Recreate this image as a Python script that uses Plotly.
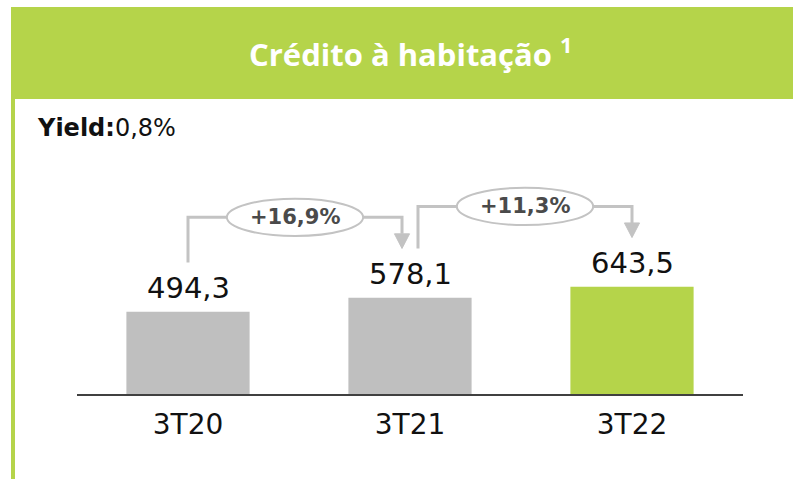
import plotly.graph_objects as go

# ---- data ----
categories = ["3T20", "3T21", "3T22"]
values = [494.3, 578.1, 643.5]
value_labels = ["494,3", "578,1", "643,5"]
bar_colors = ["#bfbfbf", "#bfbfbf", "#b5d44a"]
growth_labels = ["+16,9%", "+11,3%"]
title_text = "<b>Crédito à habitação <sup>1</sup></b>"
yield_label = "<b>Yield:</b>0,8%"

W, H = 793, 479
ML, MR, MT, MB = 77, 50, 100, 85
PW, PH = W - ML - MR, H - MT - MB
YMAX = 1766
GREEN = "#b5d44a"
LINE = "#c3c3c3"

def px_x(px):
    return (px - ML) / PW

def px_y(py):
    return (H - MB - py) / PH

x_idx = list(range(len(categories)))

fig = go.Figure()
fig.add_trace(go.Bar(
    x=x_idx, y=values, marker=dict(color=bar_colors, line=dict(width=0)),
    width=0.555, hoverinfo="skip", showlegend=False,
))

shapes = []
annotations = []

# header
shapes.append(dict(type="rect", xref="paper", yref="paper",
                   x0=px_x(11), x1=px_x(W + 2), y0=px_y(99), y1=px_y(7),
                   fillcolor=GREEN, line=dict(width=0), layer="above"))
shapes.append(dict(type="rect", xref="paper", yref="paper",
                   x0=px_x(11), x1=px_x(15), y0=px_y(H + 2), y1=px_y(99),
                   fillcolor=GREEN, line=dict(width=0), layer="above"))

annotations.append(dict(text=title_text, xref="paper", yref="paper",
                        x=px_x(410), y=px_y(52), showarrow=False,
                        xanchor="center", yanchor="middle",
                        font=dict(family="Open Sans", size=31, color="white"),
                        ))
annotations.append(dict(text=yield_label, xref="paper", yref="paper",
                        x=px_x(35), y=px_y(128), showarrow=False,
                        xanchor="left", yanchor="middle",
                        font=dict(family="DejaVu Sans", size=24, color="#111111")))

# value labels
for i, (v, t) in enumerate(zip(values, value_labels)):
    annotations.append(dict(text=t, x=i, y=v, xref="x", yref="y",
                            showarrow=False, yanchor="bottom", yshift=5,
                            font=dict(family="DejaVu Sans", size=29, color="#111111")))

# growth connectors
RISE = 296      # gap between bar top and connector ends (data units)
TOPGAP = 483    # connector height above destination bar
OFF = 0.036     # horizontal offset from bar centre
AW = 0.034      # arrowhead half-width (x units)
AH = 88         # arrowhead height (data units)
EW = 0.307      # ellipse half-width
EH = 112        # ellipse half-height
for k in range(len(values) - 1):
    x_start = k + (OFF if k > 0 else 0)
    x_end = k + 1 - (OFF if k + 1 < len(values) - 1 else 0)
    y_start = values[k] + RISE
    y_end = values[k + 1] + RISE
    y_top = values[k + 1] + TOPGAP
    shapes.append(dict(type="path", xref="x", yref="y",
                       path=f"M {x_start},{y_start} L {x_start},{y_top} L {x_end},{y_top} L {x_end},{y_end + AH}",
                       line=dict(color=LINE, width=3), layer="above"))
    shapes.append(dict(type="path", xref="x", yref="y",
                       path=f"M {x_end - AW},{y_end + AH} L {x_end + AW},{y_end + AH} L {x_end},{y_end} Z",
                       fillcolor=LINE, line=dict(color=LINE, width=1), layer="above"))
    xm = (x_start + x_end) / 2
    shapes.append(dict(type="circle", xref="x", yref="y",
                       x0=xm - EW, x1=xm + EW, y0=y_top - EH, y1=y_top + EH,
                       fillcolor="white", line=dict(color=LINE, width=2), layer="above"))
    annotations.append(dict(text=f"<b>{growth_labels[k]}</b>", x=xm, y=y_top,
                            xref="x", yref="y", showarrow=False,
                            xanchor="center", yanchor="middle",
                            font=dict(family="DejaVu Sans", size=21, color="#4a4a4a")))

fig.update_layout(
    width=W, height=H,
    margin=dict(l=ML, r=MR, t=MT, b=MB),
    paper_bgcolor="white", plot_bgcolor="white",
    shapes=shapes, annotations=annotations,
    xaxis=dict(range=[-0.5, len(categories) - 0.5], tickvals=x_idx, ticktext=categories,
               showline=True, linecolor="#404040", linewidth=2,
               showgrid=False, zeroline=False, ticks="",
               tickfont=dict(family="DejaVu Sans", size=28, color="#111111"),
               ticklabelstandoff=4),
    yaxis=dict(range=[0, YMAX], visible=False, showgrid=False, zeroline=False),
)

fig.write_html("out.html", config={"displayModeBar": False},
               post_script="document.body.style.margin='0';")
